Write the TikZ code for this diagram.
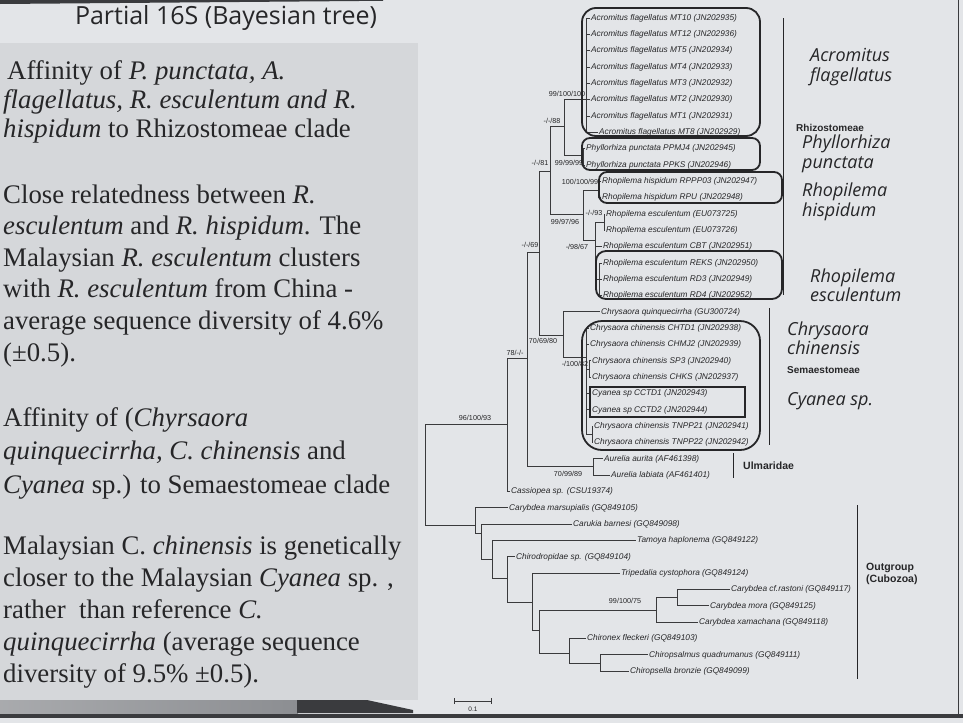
\documentclass[tikz,border=0pt]{standalone}
\usepackage{fontspec}
\setmainfont{Liberation Serif}
\newfontfamily\treefont{Liberation Sans}
\newfontfamily\slidefont{Open Sans}
\usetikzlibrary{calc}
\definecolor{panel}{HTML}{D5D7DA}
\definecolor{slidebg}{HTML}{E3E5E8}
\definecolor{ink}{HTML}{262628}
\definecolor{branch}{HTML}{3A3A3C}
\definecolor{barmid}{HTML}{8C8E92}
\definecolor{bardark}{HTML}{3A3B3E}
\tikzset{
  br/.style={draw=branch, line width=0.9pt},
  taxon/.style={anchor=west, inner sep=1pt, text=ink, font=\treefont\itshape\fontsize{8.3}{9}\selectfont},
  supp/.style={text=ink, inner sep=0pt, font=\treefont\fontsize{7.2}{8}\selectfont},
  clade/.style={draw=ink, line width=1.8pt, rounded corners=#1},
  clade/.default=10pt,
  grp/.style={anchor=west, inner sep=0pt, text=ink, align=left, font=\treefont\bfseries\fontsize{10}{12.5}\selectfont},
  gbar/.style={draw=ink, line width=1pt},
  spname/.style={anchor=west, inner sep=0pt, text=ink, align=left, font=\slidefont\itshape\fontsize{18}{19.5}\selectfont},
  body/.style={anchor=base west, inner sep=0pt, text=ink, font=\fontsize{26.8}{30}\selectfont}
}

\begin{document}
\begin{tikzpicture}[x=1pt,y=-1pt]
  \useasboundingbox (0,0) rectangle (963,723);

  % slide background
  \fill[slidebg] (0,0) rectangle (963,723);
  \fill[panel] (0,43) rectangle (418,700);
  \fill[bardark] (0,0) -- (383,0) -- (383,0.8) -- (0,4) -- cycle;
  \shade[left color=barmid!75, right color=barmid] (0,700) rectangle (298,713);
  \fill[bardark] (297,700) -- (367,700) -- (413,710) -- (413,713) -- (297,713) -- cycle;
  \fill[bardark] (0,714) rectangle (963,717.5);
  \draw[bardark, line width=1.8pt] (958.5,0) -- (958.5,716);

  % title and notes
  \node[anchor=base, inner sep=0pt, text=ink, font=\slidefont\fontsize{25}{28}\selectfont] (title) at (226,24) {Partial 16S (Bayesian tree)};
  \foreach \y/\t [count=\i] in {
      79/{\hspace{4pt}Affinity of \textit{P. punctata, A.}},
      108/{\textit{flagellatus, R. esculentum and R.}},
      137/{\textit{hispidum} to Rhizostomeae clade},
      203/{Close relatedness between \textit{R.}},
      234.6/{\textit{esculentum} and \textit{R. hispidum}. The},
      266.2/{Malaysian \textit{R. esculentum} clusters},
      297.8/{with \textit{R. esculentum} from China -},
      329.4/{average sequence diversity of 4.6\%},
      361/{(±0.5).},
      426/{Affinity of (\textit{Chyrsaora}},
      459.5/{\textit{quinquecirrha, C. chinensis} and},
      493/{\textit{Cyanea} sp.) to Semaestomeae clade},
      554/{Malaysian C. \textit{chinensis} is genetically},
      586/{closer to the Malaysian \textit{Cyanea} sp. ,},
      618/{rather \ than reference \textit{C.}},
      650/{\textit{quinquecirrha} (average sequence},
      682/{diversity of 9.5\% ±0.5).}}
    \node[body] (note\i) at (3,\y) {\t};

  % tips
  \foreach \n/\tx/\t in {
      1/590/Acromitus flagellatus MT10 (JN202935),
      2/590/Acromitus flagellatus MT12 (JN202936),
      3/590/Acromitus flagellatus MT5 (JN202934),
      4/590/Acromitus flagellatus MT4 (JN202933),
      5/590/Acromitus flagellatus MT3 (JN202932),
      6/590/Acromitus flagellatus MT2 (JN202930),
      7/590/Acromitus flagellatus MT1 (JN202931),
      8/598/Acromitus flagellatus MT8 (JN202929),
      9/585/Phyllorhiza punctata PPMJ4 (JN202945),
      10/585/Phyllorhiza punctata PPKS (JN202946),
      11/601/Rhopilema hispidum RPPP03 (JN202947),
      12/601/Rhopilema hispidum RPU (JN202948),
      13/605/Rhopilema esculentum (EU073725),
      14/605/Rhopilema esculentum (EU073726),
      15/602/Rhopilema esculentum CBT (JN202951),
      16/602/Rhopilema esculentum REKS (JN202950),
      17/602/Rhopilema esculentum RD3 (JN202949),
      18/602/Rhopilema esculentum RD4 (JN202952),
      19/600/Chrysaora quinquecirrha (GU300724),
      20/589/Chrysaora chinensis CHTD1 (JN202938),
      21/589/Chrysaora chinensis CHMJ2 (JN202939),
      22/591/Chrysaora chinensis SP3 (JN202940),
      23/591/Chrysaora chinensis CHKS (JN202937),
      24/591/Cyanea sp CCTD1 (JN202943),
      25/591/Cyanea sp CCTD2 (JN202944),
      26/593/Chrysaora chinensis TNPP21 (JN202941),
      27/593/Chrysaora chinensis TNPP22 (JN202942),
      28/603/Aurelia aurita (AF461398),
      29/610/Aurelia labiata (AF461401),
      30/510/Cassiopea sp. (CSU19374),
      31/508/Carybdea marsupialis (GQ849105),
      32/572/Carukia barnesi (GQ849098),
      33/636/Tamoya haplonema (GQ849122),
      34/515/Chirodropidae sp. (GQ849104),
      35/620/Tripedalia cystophora (GQ849124),
      36/730/Carybdea cf.rastoni (GQ849117),
      37/709/Carybdea mora (GQ849125),
      38/698/Carybdea xamachana (GQ849118),
      39/586/Chironex fleckeri (GQ849103),
      40/648/Chiropsalmus quadrumanus (GQ849111),
      41/629/Chiropsella bronzie (GQ849099)}
  {
    \pgfmathsetmacro\yy{18+16.33*(\n-1)}
    \node[taxon] (l\n) at (\tx,\yy) {\t};
  }

  % internal nodes
  \coordinate (root) at (425,475);
  \coordinate (ing) at (507,424);
  \coordinate (n78) at (527,358);
  \coordinate (n69) at (539,252);
  \coordinate (n81) at (550,171);
  \coordinate (n88) at (564,126);
  \coordinate (acr) at (586,99);
  \coordinate (phy) at (583,155);
  \coordinate (rho) at (583,214);
  \coordinate (hisp) at (598,190);
  \coordinate (esc) at (595,240);
  \coordinate (e93) at (604,222);
  \coordinate (erd) at (599,279);
  \coordinate (n7069) at (563,335);
  \coordinate (chin) at (586,357);
  \coordinate (chinA) at (589,369);
  \coordinate (chinT) at (592,434);
  \coordinate (aur) at (593,466);
  \coordinate (out) at (475,525);
  \coordinate (o2) at (481,533);
  \coordinate (o3) at (492,559);
  \coordinate (o4) at (507,578);
  \coordinate (o5) at (532,602);
  \coordinate (o6) at (539,630);
  \coordinate (cary) at (656,610);
  \coordinate (cary2) at (677,597);
  \coordinate (chiro) at (569,653);
  \coordinate (chiro2) at (600,663);

  % branches
  \draw[br] (root) |- (ing);
  \draw[br] (root) |- (out);
  \draw[br] (ing) |- (n78);
  \draw[br] (ing) |- (l30.west);
  \draw[br] (n78) |- (n69);
  \draw[br] (n78) |- (aur);
  \draw[br] (n69) |- (n81);
  \draw[br] (n69) |- (n7069);
  \draw[br] (n81) |- (n88);
  \draw[br] (n81) |- (rho);
  \draw[br] (n88) |- (acr);
  \draw[br] (n88) |- (phy);
  \foreach \c in {1,...,8} \draw[br] (acr) |- (l\c.west);
  \foreach \c in {9,10} \draw[br] (phy) |- (l\c.west);
  \draw[br] (rho) |- (hisp);
  \draw[br] (rho) |- (esc);
  \foreach \c in {11,12} \draw[br] (hisp) |- (l\c.west);
  \draw[br] (esc) |- (e93);
  \draw[br] (esc) |- (l15.west);
  \draw[br] (esc) |- (erd);
  \foreach \c in {13,14} \draw[br] (e93) |- (l\c.west);
  \foreach \c in {16,17,18} \draw[br] (erd) |- (l\c.west);
  \draw[br] (n7069) |- (l19.west);
  \draw[br] (n7069) |- (chin);
  \foreach \c in {20,21,24,25} \draw[br] (chin) |- (l\c.west);
  \draw[br] (chin) |- (chinA);
  \draw[br] (chin) |- (chinT);
  \foreach \c in {22,23} \draw[br] (chinA) |- (l\c.west);
  \foreach \c in {26,27} \draw[br] (chinT) |- (l\c.west);
  \foreach \c in {28,29} \draw[br] (aur) |- (l\c.west);
  \draw[br] (out) |- (l31.west);
  \draw[br] (out) |- (o2);
  \draw[br] (o2) |- (l32.west);
  \draw[br] (o2) |- (o3);
  \draw[br] (o3) |- (l33.west);
  \draw[br] (o3) |- (o4);
  \draw[br] (o4) |- (l34.west);
  \draw[br] (o4) |- (o5);
  \draw[br] (o5) |- (l35.west);
  \draw[br] (o5) |- (o6);
  \draw[br] (o6) |- (cary);
  \draw[br] (o6) |- (chiro);
  \draw[br] (cary) |- (cary2);
  \draw[br] (cary) |- (l38.west);
  \foreach \c in {36,37} \draw[br] (cary2) |- (l\c.west);
  \draw[br] (chiro) |- (l39.west);
  \draw[br] (chiro) |- (chiro2);
  \foreach \c in {40,41} \draw[br] (chiro2) |- (l\c.west);

  % support values
  \node[supp] (sAcr) at (567,94) {99/100/100};
  \node[supp] (s88) at (552,121) {-/-/88};
  \node[supp] (s81) at (540,163) {-/-/81};
  \node[supp] (sPhy) at (569,163) {99/99/99};
  \node[supp] (sHisp) at (580,182) {100/100/99};
  \node[supp] (s93) at (594,213) {-/-/93};
  \node[supp] (sRho) at (565,222) {99/97/96};
  \node[supp] (s69) at (530,245) {-/-/69};
  \node[supp] (sEsc) at (577,247) {-/98/67};
  \node[supp] (s7069) at (543,341) {70/69/80};
  \node[supp] (s78) at (515,353) {78/-/-};
  \node[supp] (sChin) at (575,364) {-/100/82};
  \node[supp] (sIng) at (475,418) {96/100/93};
  \node[supp] (sAur) at (568,474) {70/99/89};
  \node[supp] (sCary) at (625,601) {99/100/75};

  % clade boxes
  \draw[clade=14pt] (582,8) rectangle (760,136);
  \draw[clade=8pt] (582,138) rectangle (760,170);
  \draw[clade=8pt] (599,172) rectangle (782,203);
  \draw[clade=10pt] (596,251) rectangle (782,299);
  \draw[clade=20pt] (582,321) rectangle (760,450);
  \draw[draw=ink, line width=2.6pt] (590,387) rectangle (745,417);

  % groups
  \draw[gbar] (783,18) -- (783,295);
  \draw[gbar] (769,308) -- (769,445);
  \draw[gbar] (733,453) -- (733,478);
  \draw[gbar] (857,505) -- (857,679);
  \node[grp] (gRhi) at (796,128) {Rhizostomeae};
  \node[grp] (gSem) at (787,370) {Semaestomeae};
  \node[grp, font=\treefont\bfseries\fontsize{10.5}{12.5}\selectfont] (gUlm) at (743,466) {Ulmaridae};
  \node[grp, font=\treefont\bfseries\fontsize{10.5}{12.5}\selectfont] (gOut) at (866,574) {Outgroup\\(Cubozoa)};

  % species names
  \node[spname] (spAcr) at (810,67) {Acromitus\\flagellatus};
  \node[spname] (spPhy) at (802,154) {Phyllorhiza\\punctata};
  \node[spname] (spHisp) at (802,202) {Rhopilema\\hispidum};
  \node[spname] (spEsc) at (810,285) {Rhopilema\\esculentum};
  \node[spname] (spChin) at (787,338) {Chrysaora\\chinensis};
  \node[spname] (spCya) at (787,401) {Cyanea sp.};

  % scale bar
  \coordinate (sbA) at (454,701);
  \coordinate (sbB) at (491,701);
  \draw[br] (sbA) -- (sbB);
  \draw[br] ($(sbA)+(0,-3)$) -- ($(sbA)+(0,3)$);
  \draw[br] ($(sbB)+(0,-3)$) -- ($(sbB)+(0,3)$);
  \node[supp, font=\treefont\fontsize{6.5}{7}\selectfont] (sbLab) at (473,709) {0.1};
\end{tikzpicture}
\end{document}
